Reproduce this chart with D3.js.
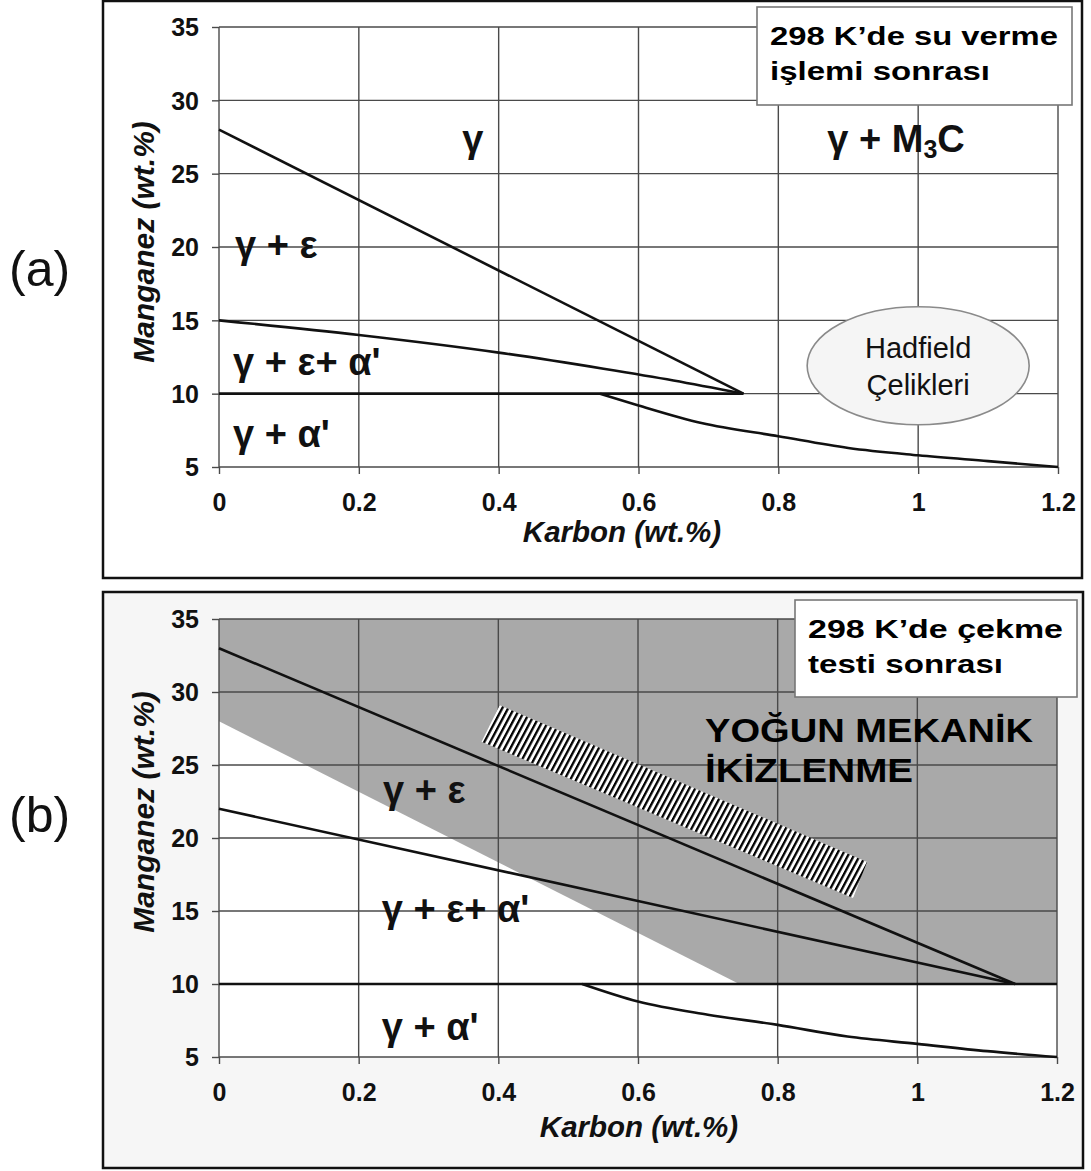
<!DOCTYPE html>
<html>
<head>
<meta charset="utf-8">
<script src="https://cdn.jsdelivr.net/npm/d3@7"></script>
<style>
  body { margin: 0; background: #fff; }
  text { font-family: 'Liberation Sans', Arial, Helvetica, sans-serif; }
</style>
</head>
<body>
<script>
// axis values shared by both panels
var xTicks = [0, 0.2, 0.4, 0.6, 0.8, 1, 1.2];
var xTickLabels = ["0", "0.2", "0.4", "0.6", "0.8", "1", "1.2"];
var yTicks = [5, 10, 15, 20, 25, 30, 35];

// panel (a): after quenching
var aEpsLine = [[0, 28], [0.75, 10]];
var aAlphaLine = [[0, 15], [0.2, 14], [0.4, 12.8], [0.55, 11.7], [0.65, 10.9], [0.75, 10]];
var aBaseLine = [[0, 10], [0.75, 10]];
var aLowerCurve = [[0.545, 10], [0.6, 9.2], [0.69, 8.0], [0.8, 7.1], [0.9, 6.3], [1.0, 5.8], [1.1, 5.4], [1.2, 5.0]];
var aLabels = [
  {t: "γ", x: 0.348, y: 26.5},
  {t: "γ + ε", x: 0.023, y: 19.25},
  {t: "γ + ε+ α'", x: 0.02, y: 11.27},
  {t: "γ + α'", x: 0.02, y: 6.36}
];
var aM3C = {x: 0.87, y: 26.5};
var hadfield = {x: 1.0, y: 11.9, lines: ["Hadfield", "Çelikleri"]};
var aLegend = ["298 K’de su verme", "işlemi sonrası"];

// panel (b): after tensile test
var bEpsLine = [[0, 33], [1.14, 10]];
var bAlphaLine = [[0, 22], [1.14, 10]];
var bBaseLine = [[0, 10], [1.2, 10]];
var bLowerCurve = [[0.52, 10], [0.6, 8.8], [0.7, 7.9], [0.8, 7.2], [0.9, 6.4], [1.0, 5.9], [1.1, 5.4], [1.2, 5.0]];
var bTwinZone = [[0, 35], [1.2, 35], [1.2, 10], [0.745, 10], [0, 28]];
var bHatchBand = [[0.376, 26.6], [0.402, 29.1], [0.928, 18.36], [0.908, 15.89]];
var bLabels = [
  {t: "γ + ε", x: 0.235, y: 22.4},
  {t: "γ + ε+ α'", x: 0.233, y: 14.25},
  {t: "γ + α'", x: 0.233, y: 6.16}
];
var bTwinText = {x: 0.696, y: 26.58, lines: ["YOĞUN MEKANİK", "İKİZLENME"]};
var bLegend = ["298 K’de çekme", "testi sonrası"];

var svg = d3.select("body").append("svg")
  .attr("width", 1091)
  .attr("height", 1171);

var defs = svg.append("defs");
var hatch = defs.append("pattern")
  .attr("id", "hatch")
  .attr("patternUnits", "userSpaceOnUse")
  .attr("width", 5.2)
  .attr("height", 5.2)
  .attr("patternTransform", "rotate(28)");
hatch.append("rect").attr("width", 5.2).attr("height", 5.2).attr("fill", "#fff");
hatch.append("rect").attr("width", 2.3).attr("height", 5.2).attr("fill", "#000");

function fit(sel, w) {
  sel.attr("textLength", w).attr("lengthAdjust", "spacingAndGlyphs");
}

function makePanel(p) {
  var g = svg.append("g");

  g.append("rect")
    .attr("x", p.box[0]).attr("y", p.box[1])
    .attr("width", p.box[2] - p.box[0]).attr("height", p.box[3] - p.box[1])
    .attr("fill", p.bg)
    .attr("stroke", "#111")
    .attr("stroke-width", 2.5);

  var x = d3.scaleLinear().domain([0, 1.2]).range([p.x0, p.x1]);
  var y = d3.scaleLinear().domain([5, 35]).range([p.y0, p.y1]);

  g.append("rect")
    .attr("x", x(0)).attr("y", y(35))
    .attr("width", x(1.2) - x(0)).attr("height", y(5) - y(35))
    .attr("fill", "#fff");

  var under = g.append("g");   // fills go under the grid

  var grid = g.append("g").attr("stroke", "#4a4a4a").attr("stroke-width", 1.4);
  grid.selectAll(".v").data(xTicks).enter().append("line")
    .attr("x1", d => x(d)).attr("x2", d => x(d))
    .attr("y1", y(35)).attr("y2", y(5));
  grid.selectAll(".h").data(yTicks).enter().append("line")
    .attr("x1", x(0)).attr("x2", x(1.2))
    .attr("y1", d => y(d)).attr("y2", d => y(d));

  var gx = g.append("g")
    .attr("transform", "translate(0," + y(5) + ")")
    .call(d3.axisBottom(x).tickValues(xTicks)
      .tickFormat((d, i) => xTickLabels[i])
      .tickSize(7).tickPadding(19));
  var gy = g.append("g")
    .attr("transform", "translate(" + x(0) + ",0)")
    .call(d3.axisLeft(y).tickValues(yTicks).tickSize(7).tickPadding(13));

  [gx, gy].forEach(function(a) {
    a.select(".domain").remove();
    a.selectAll(".tick line").attr("stroke", "#4a4a4a").attr("stroke-width", 1.4);
    a.selectAll(".tick text")
      .attr("font-family", "'Liberation Sans', Arial, sans-serif")
      .attr("font-size", 25)
      .attr("font-weight", "bold")
      .attr("fill", "#111");
  });
  gy.selectAll(".tick text").attr("dy", "0.35em");

  g.append("text")
    .attr("transform", "translate(154," + p.yTitleY + ") rotate(-90)")
    .attr("text-anchor", "middle")
    .attr("font-size", 30).attr("font-weight", "bold").attr("font-style", "italic")
    .attr("fill", "#111")
    .text("Manganez (wt.%)");

  g.append("text")
    .attr("x", p.xTitleX).attr("y", p.xTitleY)
    .attr("text-anchor", "middle")
    .attr("font-size", 29.5).attr("font-weight", "bold").attr("font-style", "italic")
    .attr("fill", "#111")
    .text("Karbon (wt.%)");

  g.append("text")
    .attr("x", 9).attr("y", p.tagY)
    .attr("font-size", 50)
    .attr("fill", "#111")
    .text(p.tag);

  return {g: g, under: under, x: x, y: y};
}

function phaseLines(P, lines) {
  var line = d3.line().x(d => P.x(d[0])).y(d => P.y(d[1])).curve(d3.curveMonotoneX);
  P.g.append("g").selectAll("path").data(lines).enter().append("path")
    .attr("d", line)
    .attr("fill", "none")
    .attr("stroke", "#111")
    .attr("stroke-width", 2.6)
    .attr("stroke-linejoin", "round");
}

function phaseLabels(P, labels) {
  P.g.append("g").selectAll("text").data(labels).enter().append("text")
    .attr("x", d => P.x(d.x)).attr("y", d => P.y(d.y))
    .attr("font-size", 38).attr("font-weight", "bold")
    .attr("fill", "#111")
    .text(d => d.t);
}

function legendBox(P, r, lines, widths) {
  P.g.append("rect")
    .attr("x", r[0]).attr("y", r[1])
    .attr("width", r[2] - r[0]).attr("height", r[3] - r[1])
    .attr("fill", "#fff")
    .attr("stroke", "#777")
    .attr("stroke-width", 1.6);
  lines.forEach(function(t, i) {
    P.g.append("text")
      .attr("x", r[0] + 13).attr("y", r[1] + 38 + i * 35)
      .attr("font-size", 26).attr("font-weight", "bold")
      .attr("fill", "#000")
      .text(t)
      .call(fit, widths[i]);
  });
}

// ---------- (a)
var A = makePanel({
  box: [103, 1, 1082, 578], bg: "#fff",
  x0: 219, x1: 1058, y0: 467, y1: 27,
  yTitleY: 242, xTitleX: 622, xTitleY: 542,
  tag: "(a)", tagY: 286
});

phaseLines(A, [aEpsLine, aAlphaLine, aBaseLine, aLowerCurve]);
phaseLabels(A, aLabels);

var m3c = A.g.append("text")
  .attr("x", A.x(aM3C.x)).attr("y", A.y(aM3C.y))
  .attr("font-size", 38).attr("font-weight", "bold")
  .attr("fill", "#111");
m3c.append("tspan").text("γ + M");
m3c.append("tspan").attr("font-size", 25).attr("dy", 6).text("3");
m3c.append("tspan").attr("dy", -6).text("C");

A.g.append("ellipse")
  .attr("cx", A.x(hadfield.x)).attr("cy", A.y(hadfield.y))
  .attr("rx", 111).attr("ry", 59)
  .attr("fill", "#f5f5f5")
  .attr("stroke", "#8a8a8a")
  .attr("stroke-width", 1.6);
hadfield.lines.forEach(function(t, i) {
  A.g.append("text")
    .attr("x", A.x(hadfield.x)).attr("y", A.y(hadfield.y) - 8 + i * 37)
    .attr("text-anchor", "middle")
    .attr("font-size", 29)
    .attr("fill", "#111")
    .text(t);
});

legendBox(A, [757, 7, 1072, 105], aLegend, [288, 220]);

// ---------- (b)
var B = makePanel({
  box: [103, 592, 1083, 1168], bg: "#f6f6f6",
  x0: 219, x1: 1057, y0: 1057, y1: 619,
  yTitleY: 812, xTitleX: 639, xTitleY: 1137,
  tag: "(b)", tagY: 832
});

var area = d3.line().x(d => B.x(d[0])).y(d => B.y(d[1]));
B.under.append("path")
  .attr("d", area(bTwinZone) + "Z")
  .attr("fill", "#a9a9a9");

B.g.append("path")
  .attr("d", area(bHatchBand) + "Z")
  .attr("fill", "url(#hatch)");

phaseLines(B, [bEpsLine, bAlphaLine, bBaseLine, bLowerCurve]);
phaseLabels(B, bLabels);

bTwinText.lines.forEach(function(t, i) {
  B.g.append("text")
    .attr("x", B.x(bTwinText.x)).attr("y", B.y(bTwinText.y) + i * 40)
    .attr("font-size", 33).attr("font-weight", "bold")
    .attr("fill", "#000")
    .text(t)
    .call(fit, i == 0 ? 328 : 208);
});

legendBox(B, [795, 600, 1077, 697], bLegend, [255, 195]);
</script>
</body>
</html>
